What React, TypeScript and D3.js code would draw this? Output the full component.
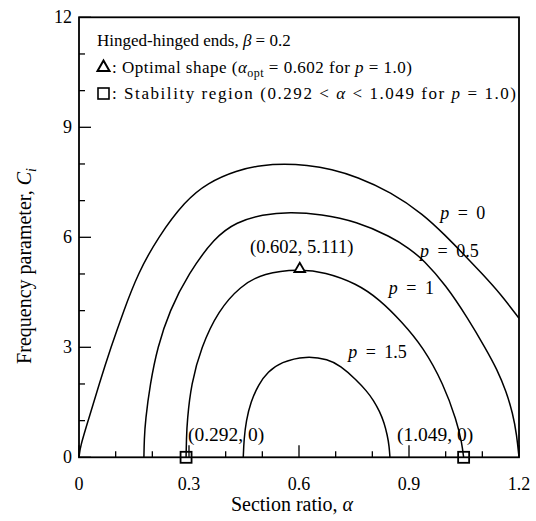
import React from "react";
import * as d3 from "d3";

// ---- data ----
const p0Alpha = [0, 0.003, 0.025, 0.055, 0.087, 0.122, 0.16, 0.215, 0.29, 0.35, 0.43, 0.5, 0.56, 0.62, 0.69, 0.757, 0.85, 0.94, 1.0, 1.05, 1.1, 1.15, 1.2];
const p0C = [0, 0.28, 1.0, 2.0, 3.0, 4.0, 5.0, 6.0, 7.0, 7.48, 7.83, 7.97, 8.0, 7.97, 7.86, 7.65, 7.24, 6.62, 6.04, 5.53, 5.0, 4.45, 3.79];

const p05Alpha = [0.177, 0.178, 0.181, 0.194, 0.214, 0.247, 0.298, 0.37, 0.43, 0.5, 0.575, 0.66, 0.757, 0.85, 0.9, 0.94, 1.0, 1.06, 1.11, 1.14, 1.165, 1.183, 1.194, 1.2];
const p05C = [0, 0.5, 1.0, 2.0, 3.0, 4.0, 5.0, 6.0, 6.42, 6.62, 6.69, 6.63, 6.43, 6.02, 5.7, 5.38, 4.7, 3.8, 2.95, 2.4, 1.8, 1.2, 0.6, 0];

const p1Alpha = [0.292, 0.293, 0.295, 0.306, 0.333, 0.38, 0.44, 0.503, 0.602, 0.67, 0.757, 0.82, 0.88, 0.939, 0.994, 1.03, 1.044, 1.049];
const p1C = [0, 0.5, 1.0, 2.0, 3.0, 4.0, 4.67, 5.03, 5.13, 5.05, 4.74, 4.3, 3.7, 3.0, 2.0, 1.0, 0.4, 0];

const p15Alpha = [0.448, 0.45, 0.456, 0.468, 0.49, 0.515, 0.55, 0.62, 0.68, 0.712, 0.757, 0.785, 0.803, 0.82, 0.832, 0.841, 0.846, 0.848];
const p15C = [0, 0.5, 1.0, 1.5, 2.0, 2.33, 2.6, 2.77, 2.67, 2.5, 2.11, 1.8, 1.56, 1.25, 0.95, 0.6, 0.3, 0];

const curveNames = ["0", "0.5", "1", "1.5"];
const labelAlpha = [0.985, 0.93, 0.845, 0.734];
const labelC = [6.5, 5.46, 4.45, 2.71];

const optimal = { alpha: 0.602, C: 5.111 };
const stability = [0.292, 1.049];

const xTicks = [0, 0.3, 0.6, 0.9, 1.2];
const yTicks = [0, 3, 6, 9, 12];

const W = 536, H = 521;
const L = 79, R = 519, T = 17.3, B = 457.3;
const FONT = "'Liberation Serif', 'Times New Roman', serif";

export default function App() {
  const x = d3.scaleLinear().domain([0, 1.2]).range([L, R]);
  const y = d3.scaleLinear().domain([0, 12]).range([B, T]);
  const line = d3
    .line<[number, number]>()
    .x((d) => x(d[0]))
    .y((d) => y(d[1]))
    .curve(d3.curveBasis);

  const series = [
    d3.zip(p0Alpha, p0C),
    d3.zip(p05Alpha, p05C),
    d3.zip(p1Alpha, p1C),
    d3.zip(p15Alpha, p15C),
  ] as [number, number][][];

  const minorX = d3.range(0, 13).map((i) => i / 10);
  const minorY = d3.range(0, 13);
  const tri = d3.symbol().type(d3.symbolTriangle).size(50)() || "";
  const sq = 11;

  return (
    <svg width={W} height={H} style={{ position: "absolute", left: 0, top: 0 }} fontFamily={FONT}>
      <rect x={0} y={0} width={W} height={H} fill="#fff" />
      {/* curves */}
      {series.map((s, i) => (
        <path key={i} d={line(s) || ""} fill="none" stroke="#000" strokeWidth={1.5} />
      ))}
      {/* ticks */}
      {minorX.map((v, i) => (
        <line key={"xt" + i} x1={x(v)} x2={x(v)} y1={B} y2={B - (i % 3 === 0 ? 12 : 6)} stroke="#000" strokeWidth={1.3} />
      ))}
      {minorY.map((v, i) => (
        <line key={"yt" + i} x1={L} x2={L + (i % 3 === 0 ? 12 : 6)} y1={y(v)} y2={y(v)} stroke="#000" strokeWidth={1.3} />
      ))}
      {/* frame */}
      <rect x={L} y={T} width={R - L} height={B - T} fill="none" stroke="#000" strokeWidth={1.8} />
      {/* tick labels */}
      {xTicks.map((v) => (
        <text key={"xl" + v} x={x(v)} y={490} textAnchor="middle" fontSize={18}>
          {v === 0 ? "0" : v.toFixed(1)}
        </text>
      ))}
      {yTicks.map((v) => (
        <text key={"yl" + v} x={72} y={y(v) + 6} textAnchor="end" fontSize={18}>
          {v}
        </text>
      ))}
      {/* axis titles */}
      <text x={292} y={511} textAnchor="middle" fontSize={20}>
        Section ratio, <tspan fontStyle="italic">α</tspan>
      </text>
      <text transform={`translate(31,${266}) rotate(-90)`} textAnchor="middle" fontSize={20}>
        Frequency parameter, <tspan fontStyle="italic">C</tspan>
        <tspan fontStyle="italic" fontSize={14} dy={5}>i</tspan>
      </text>
      {/* markers */}
      <path d={tri} transform={`translate(${x(optimal.alpha)},${y(optimal.C) - 1})`} fill="#fff" stroke="#000" strokeWidth={1.8} />
      {stability.map((a) => (
        <rect key={"sq" + a} x={x(a) - sq / 2} y={y(0) - sq / 2} width={sq} height={sq} fill="none" stroke="#000" strokeWidth={1.8} />
      ))}
      {/* point labels */}
      <text x={x(optimal.alpha) + 2} y={253} textAnchor="middle" fontSize={18.5}>
        (0.602, 5.111)
      </text>
      <text x={188} y={441} fontSize={19.5}>(0.292, 0)</text>
      <text x={397} y={441} fontSize={19.5}>(1.049, 0)</text>
      {/* curve labels */}
      {curveNames.map((t, i) => (
        <text key={t} x={x(labelAlpha[i])} y={y(labelC[i])} fontSize={18}>
          <tspan fontStyle="italic">p</tspan>
          <tspan dx={8.5}>=</tspan>
          <tspan dx={8.5}>{t}</tspan>
        </text>
      ))}
      {/* legend */}
      <text x={97} y={46} fontSize={17}>
        Hinged-hinged ends, <tspan fontStyle="italic">β</tspan> = 0.2
      </text>
      <path d={d3.symbol().type(d3.symbolTriangle).size(62)() || ""} transform="translate(103.5,67.5)" fill="none" stroke="#000" strokeWidth={2} />
      <text x={112} y={73} fontSize={17} textLength={300} lengthAdjust="spacing">
        : Optimal shape (<tspan fontStyle="italic">α</tspan>
        <tspan fontSize={12} dy={4}>opt</tspan>
        <tspan dy={-4}> = 0.602 for </tspan>
        <tspan fontStyle="italic">p</tspan> = 1.0)
      </text>
      <rect x={98} y={88} width={11} height={11} fill="none" stroke="#000" strokeWidth={1.6} />
      <text x={112} y={99} fontSize={17} textLength={404} lengthAdjust="spacing">
        : Stability region (0.292 &lt; <tspan fontStyle="italic">α</tspan> &lt; 1.049 for{" "}
        <tspan fontStyle="italic">p</tspan> = 1.0)
      </text>
    </svg>
  );
}
